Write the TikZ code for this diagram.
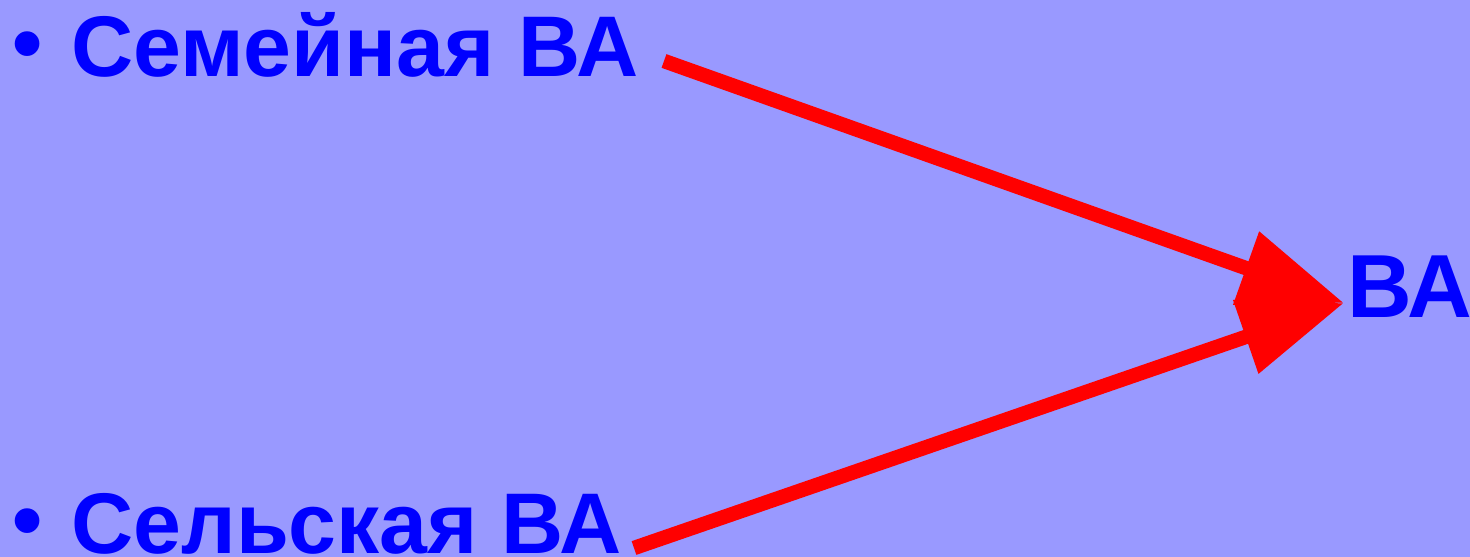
\documentclass[tikz,border=0pt]{standalone}
\usepackage{fontspec}
\setmainfont{Liberation Sans}
\usetikzlibrary{arrows.meta}
\definecolor{bgblue}{HTML}{9999FF}
\definecolor{txtblue}{HTML}{0000FF}
\definecolor{arrred}{HTML}{FF0000}
\tikzset{
  lbl/.style={inner sep=0pt, text=txtblue, font=\fontsize{49}{58}\selectfont\bfseries},
  bul/.style={lbl, anchor=base},
  arr/.style={draw=arrred, line width=0.29cm, -{Triangle[length=2.08cm, width=1.48cm]}}
}
\begin{document}
\begin{tikzpicture}[x=0.02cm, y=-0.02cm]
  % fond
  \fill[bgblue] (0,0) rectangle (1470,557);
  \useasboundingbox (0,0) rectangle (1470,557);
  % textes
  \node[bul] (b1) at (28,73) {•};
  \node[lbl, anchor=base west] (sem) at (71,77) {Семейная ВА};
  \node[bul] (b2) at (28,549) {•};
  \node[lbl, anchor=base west] (sel) at (71,553) {Сельская ВА};
  \node[lbl, anchor=base west, font=\fontsize{51}{60}\selectfont\bfseries] (va) at (1347,317) {ВА};
  % fleches
  \coordinate (semend) at (664,61);
  \coordinate (selend) at (634,548);
  \coordinate (vatip) at (1344,303);
  \draw[arr] (semend) -- (vatip);
  \draw[arr] (selend) -- (vatip);
\end{tikzpicture}
\end{document}
